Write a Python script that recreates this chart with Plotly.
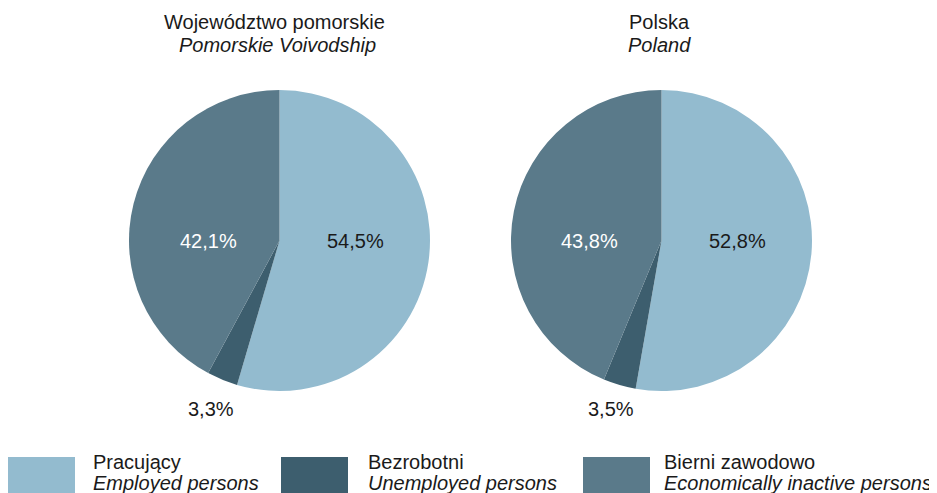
import math
import plotly.graph_objects as go

W, H = 937, 493
OFF = 8  # default page body margin in the browser
FIG_W, FIG_H = W - OFF, H - OFF

categories_pl = ["Pracujący", "Bezrobotni", "Bierni zawodowo"]
categories_en = ["Employed persons", "Unemployed persons", "Economically inactive persons"]
colors = ["#93BBCF", "#3D5E6E", "#5A7A8A"]

pomorskie_values = [54.5, 3.3, 42.1]
polska_values = [52.8, 3.5, 43.8]

panel_titles_pl = ["Województwo pomorskie", "Polska"]
panel_titles_en = ["Pomorskie Voivodship", "Poland"]

FONT = "Liberation Sans, Arial, sans-serif"
FS = 20

# pie geometry in page pixels
centers = [(279.5, 240.5), (661.5, 240.5)]
R = 150.5
title_shift = [(-5, -2), (-2, -2)]

fig = go.Figure()
annotations = []
shapes = []

def px_to_paper(x, y):
    return (x - OFF) / FIG_W, 1 - (y - OFF) / FIG_H

for (cx, cy), vals, tpl, ten, (s1, s2) in zip(centers, [pomorskie_values, polska_values],
                                               panel_titles_pl, panel_titles_en, title_shift):
    x0, y1 = px_to_paper(cx - R, cy - R)
    x1, y0 = px_to_paper(cx + R, cy + R)
    fig.add_trace(go.Pie(
        values=vals,
        labels=categories_pl,
        marker=dict(colors=colors, line=dict(width=0)),
        sort=False,
        direction="clockwise",
        rotation=0,
        textinfo="none",
        hoverinfo="label+percent",
        showlegend=False,
        domain=dict(x=[x0, x1], y=[y0, y1]),
    ))
    total = sum(vals)
    cum = 0.0
    for i, v in enumerate(vals):
        mid = (cum + v / 2) / total * 2 * math.pi
        cum += v
        if i == 1:
            lx = cx + 1.2 * R * math.sin(mid)
            ly = cy + 168
        else:
            lx = cx + 0.5 * R * math.sin(mid) + 1.5
            ly = cy
        ax, ay = px_to_paper(lx, ly)
        txt = f"{v:.1f}%".replace(".", ",")
        color = "#FFFFFF" if i == 2 else "#1a1a1a"
        annotations.append(dict(x=ax, y=ay, xref="paper", yref="paper", text=txt,
                                showarrow=False, xanchor="center", yanchor="middle",
                                font=dict(family=FONT, size=FS, color=color)))
    tx, ty = px_to_paper(cx + s1, 22)
    annotations.append(dict(x=tx, y=ty, xref="paper", yref="paper", text=tpl,
                            showarrow=False, xanchor="center", yanchor="middle",
                            font=dict(family=FONT, size=FS, color="#1a1a1a")))
    tx, ty = px_to_paper(cx + s2, 45)
    annotations.append(dict(x=tx, y=ty, xref="paper", yref="paper", text=f"<i>{ten}</i>",
                            showarrow=False, xanchor="center", yanchor="middle",
                            font=dict(family=FONT, size=FS, color="#1a1a1a")))

# custom legend
legend_x = [8, 281, 583]
legend_text_x = [91, 366, 662]
for lx, tx_, c, tpl, ten in zip(legend_x, legend_text_x, colors, categories_pl, categories_en):
    sx0, sy1 = px_to_paper(lx, 457)
    sx1, sy0 = px_to_paper(lx + 67, 510)
    shapes.append(dict(type="rect", xref="paper", yref="paper",
                       x0=sx0, x1=sx1, y0=sy0, y1=sy1,
                       fillcolor=c, line=dict(width=0)))
    ax, ay = px_to_paper(tx_, 462)
    annotations.append(dict(x=ax, y=ay, xref="paper", yref="paper", text=tpl,
                            showarrow=False, xanchor="left", yanchor="middle",
                            font=dict(family=FONT, size=FS, color="#1a1a1a")))
    ax, ay = px_to_paper(tx_, 483)
    annotations.append(dict(x=ax, y=ay, xref="paper", yref="paper", text=f"<i>{ten}</i>",
                            showarrow=False, xanchor="left", yanchor="middle",
                            font=dict(family=FONT, size=FS, color="#1a1a1a")))

fig.update_layout(
    width=FIG_W, height=FIG_H,
    margin=dict(l=0, r=0, t=0, b=0),
    paper_bgcolor="white", plot_bgcolor="white",
    annotations=annotations,
    shapes=shapes,
    showlegend=False,
)

fig.write_html("out.html")
